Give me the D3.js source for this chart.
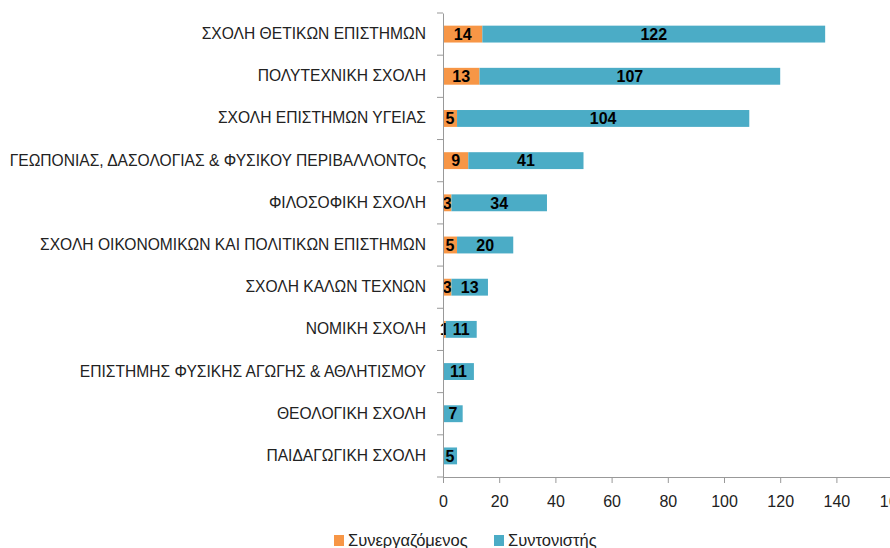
<!DOCTYPE html>
<html>
<head>
<meta charset="utf-8">
<script src="https://cdn.jsdelivr.net/npm/d3@7/dist/d3.min.js"></script>
<style>
  body { margin: 0; background: #fff; overflow: hidden; }
  svg text { font-family: "Liberation Sans", Arial, sans-serif; }
</style>
</head>
<body>
<div id="chart"></div>
<script>
// schools, top to bottom
const categories = [
  'ΣΧΟΛΗ ΘΕΤΙΚΩΝ ΕΠΙΣΤΗΜΩΝ',
  'ΠΟΛΥΤΕΧΝΙΚΗ ΣΧΟΛΗ',
  'ΣΧΟΛΗ ΕΠΙΣΤΗΜΩΝ ΥΓΕΙΑΣ',
  'ΓΕΩΠΟΝΙΑΣ, ΔΑΣΟΛΟΓΙΑΣ & ΦΥΣΙΚΟΥ ΠΕΡΙΒΑΛΛΟΝΤΟς',
  'ΦΙΛΟΣΟΦΙΚΗ ΣΧΟΛΗ',
  'ΣΧΟΛΗ ΟΙΚΟΝΟΜΙΚΩΝ ΚΑΙ ΠΟΛΙΤΙΚΩΝ ΕΠΙΣΤΗΜΩΝ',
  'ΣΧΟΛΗ ΚΑΛΩΝ ΤΕΧΝΩΝ',
  'ΝΟΜΙΚΗ ΣΧΟΛΗ',
  'ΕΠΙΣΤΗΜΗΣ ΦΥΣΙΚΗΣ ΑΓΩΓΗΣ & ΑΘΛΗΤΙΣΜΟΥ',
  'ΘΕΟΛΟΓΙΚΗ ΣΧΟΛΗ',
  'ΠΑΙΔΑΓΩΓΙΚΗ ΣΧΟΛΗ'
];
const seriesNames = ['Συνεργαζόμενος', 'Συντονιστής'];
const synergazomenos = [14, 13, 5, 9, 3, 5, 3, 1, 0, 0, 0];
const syntonistis = [122, 107, 104, 41, 34, 20, 13, 11, 11, 7, 5];
const xTicks = [0, 20, 40, 60, 80, 100, 120, 140, 160];

const colors = ['#F79646', '#4BACC6'];

const W = 890, H = 548;
const plotLeft = 443, plotTop = 13, plotBottom = 477;

const rows = categories.map((c, i) => ({
  cat: c,
  [seriesNames[0]]: synergazomenos[i],
  [seriesNames[1]]: syntonistis[i]
}));
const stacked = d3.stack().keys(seriesNames)(rows);

const x = d3.scaleLinear().domain([0, 160]).range([plotLeft, 892.6]);
const y = d3.scaleBand().domain(categories).range([plotTop, plotBottom]).paddingInner(0.6).paddingOuter(0.3);
const yTicks = d3.scaleBand().domain(categories).range([plotTop, plotBottom]);

const svg = d3.select('#chart').append('svg')
  .attr('width', W).attr('height', H);

// bars
const groups = svg.selectAll('g.series')
  .data(stacked)
  .enter().append('g')
  .attr('class', 'series')
  .attr('fill', (d, i) => colors[i]);

groups.selectAll('rect')
  .data(d => d)
  .enter().append('rect')
  .attr('x', d => x(d[0]))
  .attr('y', d => y(d.data.cat))
  .attr('width', d => x(d[1]) - x(d[0]))
  .attr('height', y.bandwidth());

// data labels
groups.selectAll('text')
  .data(d => d.filter(p => p[1] - p[0] > 0))
  .enter().append('text')
  .attr('x', d => x((d[0] + d[1]) / 2))
  .attr('y', d => y(d.data.cat) + y.bandwidth() / 2)
  .attr('dy', '0.36em')
  .attr('text-anchor', 'middle')
  .attr('font-size', 16)
  .attr('font-weight', 'bold')
  .attr('fill', '#000')
  .text(d => d[1] - d[0]);

// y axis
const yAxis = svg.append('g')
  .attr('transform', `translate(${plotLeft},0)`)
  .call(d3.axisLeft(y).tickSize(0).tickPadding(17));
yAxis.select('.domain').attr('stroke', '#999');
yAxis.selectAll('text').attr('font-size', 15.6).attr('fill', '#222');

// y tick marks between categories
svg.append('g').selectAll('line')
  .data(categories.map(c => yTicks(c)).concat([plotBottom]))
  .enter().append('line')
  .attr('x1', plotLeft - 6).attr('x2', plotLeft)
  .attr('y1', d => d).attr('y2', d => d)
  .attr('stroke', '#999');

// x axis
const xAxis = svg.append('g')
  .attr('transform', `translate(0,${plotBottom})`)
  .call(d3.axisBottom(x).tickValues(xTicks).tickSize(6).tickSizeOuter(0).tickPadding(13));
xAxis.select('.domain').attr('stroke', '#999');
xAxis.selectAll('line').attr('stroke', '#999');
xAxis.selectAll('text').attr('font-size', 16).attr('fill', '#222');

// legend
const legend = svg.append('g');
const legendX = [334, 494];
seriesNames.forEach((name, i) => {
  legend.append('rect')
    .attr('x', legendX[i]).attr('y', 535)
    .attr('width', 10).attr('height', 11)
    .attr('fill', colors[i]);
  legend.append('text')
    .attr('x', legendX[i] + 14).attr('y', 540.5)
    .attr('dy', '0.36em')
    .attr('font-size', 16.5)
    .attr('fill', '#222')
    .text(name);
});
</script>
</body>
</html>
